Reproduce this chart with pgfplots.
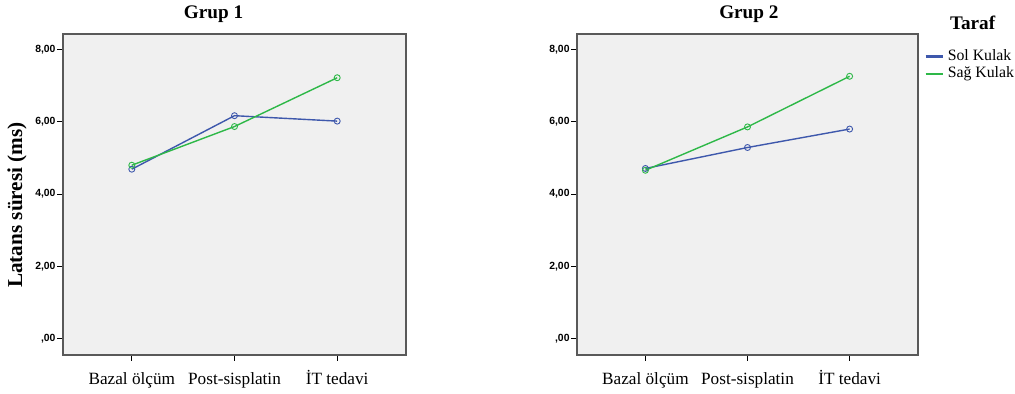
\documentclass[border=0pt]{standalone}
\usepackage{pgfplots}
\pgfplotsset{compat=1.18}
\usepackage{fontspec}
\setmainfont{Liberation Serif}
\setsansfont{Liberation Sans}
\definecolor{solc}{HTML}{3E58AC}
\definecolor{sagc}{HTML}{2EB848}
\definecolor{bgc}{HTML}{F0F0F0}
\pgfplotsset{
  panel/.style={
    scale only axis,
    height=160.5pt,
    xmin=-0.67, xmax=2.67,
    ymin=-0.45, ymax=8.43,
    axis background/.style={fill=bgc},
    axis line style={draw=black!65, line width=0.8pt},
    tick align=outside,
    xtick pos=bottom, ytick pos=left,
    major tick length=2.8pt,
    tick style={black, line width=0.6pt},
    xtick={0,1,2},
    xticklabels={Bazal ölçüm, Post-sisplatin, İT tedavi},
    xticklabel style={font=\fontsize{8.6pt}{10pt}\selectfont, anchor=base, yshift=-12pt},
    ytick={0,2,4,6,8},
    yticklabels={{,00},{2,00},{4,00},{6,00},{8,00}},
    yticklabel style={font=\sffamily\bfseries\fontsize{5.2pt}{6pt}\selectfont, xshift=2.6pt},
    title style={font=\bfseries\fontsize{9.6pt}{11pt}\selectfont, anchor=base},
  },
  sol/.style={color=solc, line width=0.7pt, mark=o, mark size=1.5pt, mark options={line width=0.45pt}},
  sag/.style={color=sagc, line width=0.7pt, mark=o, mark size=1.5pt, mark options={line width=0.45pt}},
}
\begin{document}
\begin{tikzpicture}[x=1pt,y=1pt]
\path[use as bounding box] (0,0) rectangle (507.5,197);
\begin{axis}[panel,
  at={(31.5pt,19.5pt)}, anchor=south west,
  width=171.5pt,
  title={Grup 1},
  title style={at={(0.439,1)}, yshift=1.5pt},
  ylabel={Latans süresi (ms)},
  ylabel style={font=\bfseries\fontsize{10.6pt}{12pt}\selectfont, at={(axis description cs:-0.134,0.467)}, anchor=center},
]
\addplot[sol] coordinates {(0,4.69) (1,6.17) (2,6.02)};
\addplot[sag] coordinates {(0,4.80) (1,5.87) (2,7.22)};
\end{axis}
\begin{axis}[panel,
  at={(288.5pt,19.5pt)}, anchor=south west,
  width=170.5pt,
  title={Grup 2},
  title style={at={(0.504,1)}, yshift=1.5pt},
  legend style={at={(1.018,0.958)}, anchor=north west, draw=none, fill=none,
    font=\fontsize{7.9pt}{9pt}\selectfont, inner sep=0pt, row sep=0pt,
    nodes={inner ysep=0.5pt, text height=5.8pt, text depth=1.8pt}},
  legend cell align=left,
  legend image code/.code={\draw[#1, mark=none, line width=1.1pt] (0pt,0pt) -- (8.5pt,0pt);},
  after end axis/.code={\node[font=\bfseries\fontsize{9.6pt}{11pt}\selectfont, anchor=base] at (rel axis cs:1.16,1) [yshift=2pt] {Taraf};},
]
\addplot[sol] coordinates {(0,4.71) (1,5.29) (2,5.80)};
\addlegendentry{Sol Kulak}
\addplot[sag] coordinates {(0,4.66) (1,5.86) (2,7.26)};
\addlegendentry{Sağ Kulak}
\end{axis}
\end{tikzpicture}
\end{document}
